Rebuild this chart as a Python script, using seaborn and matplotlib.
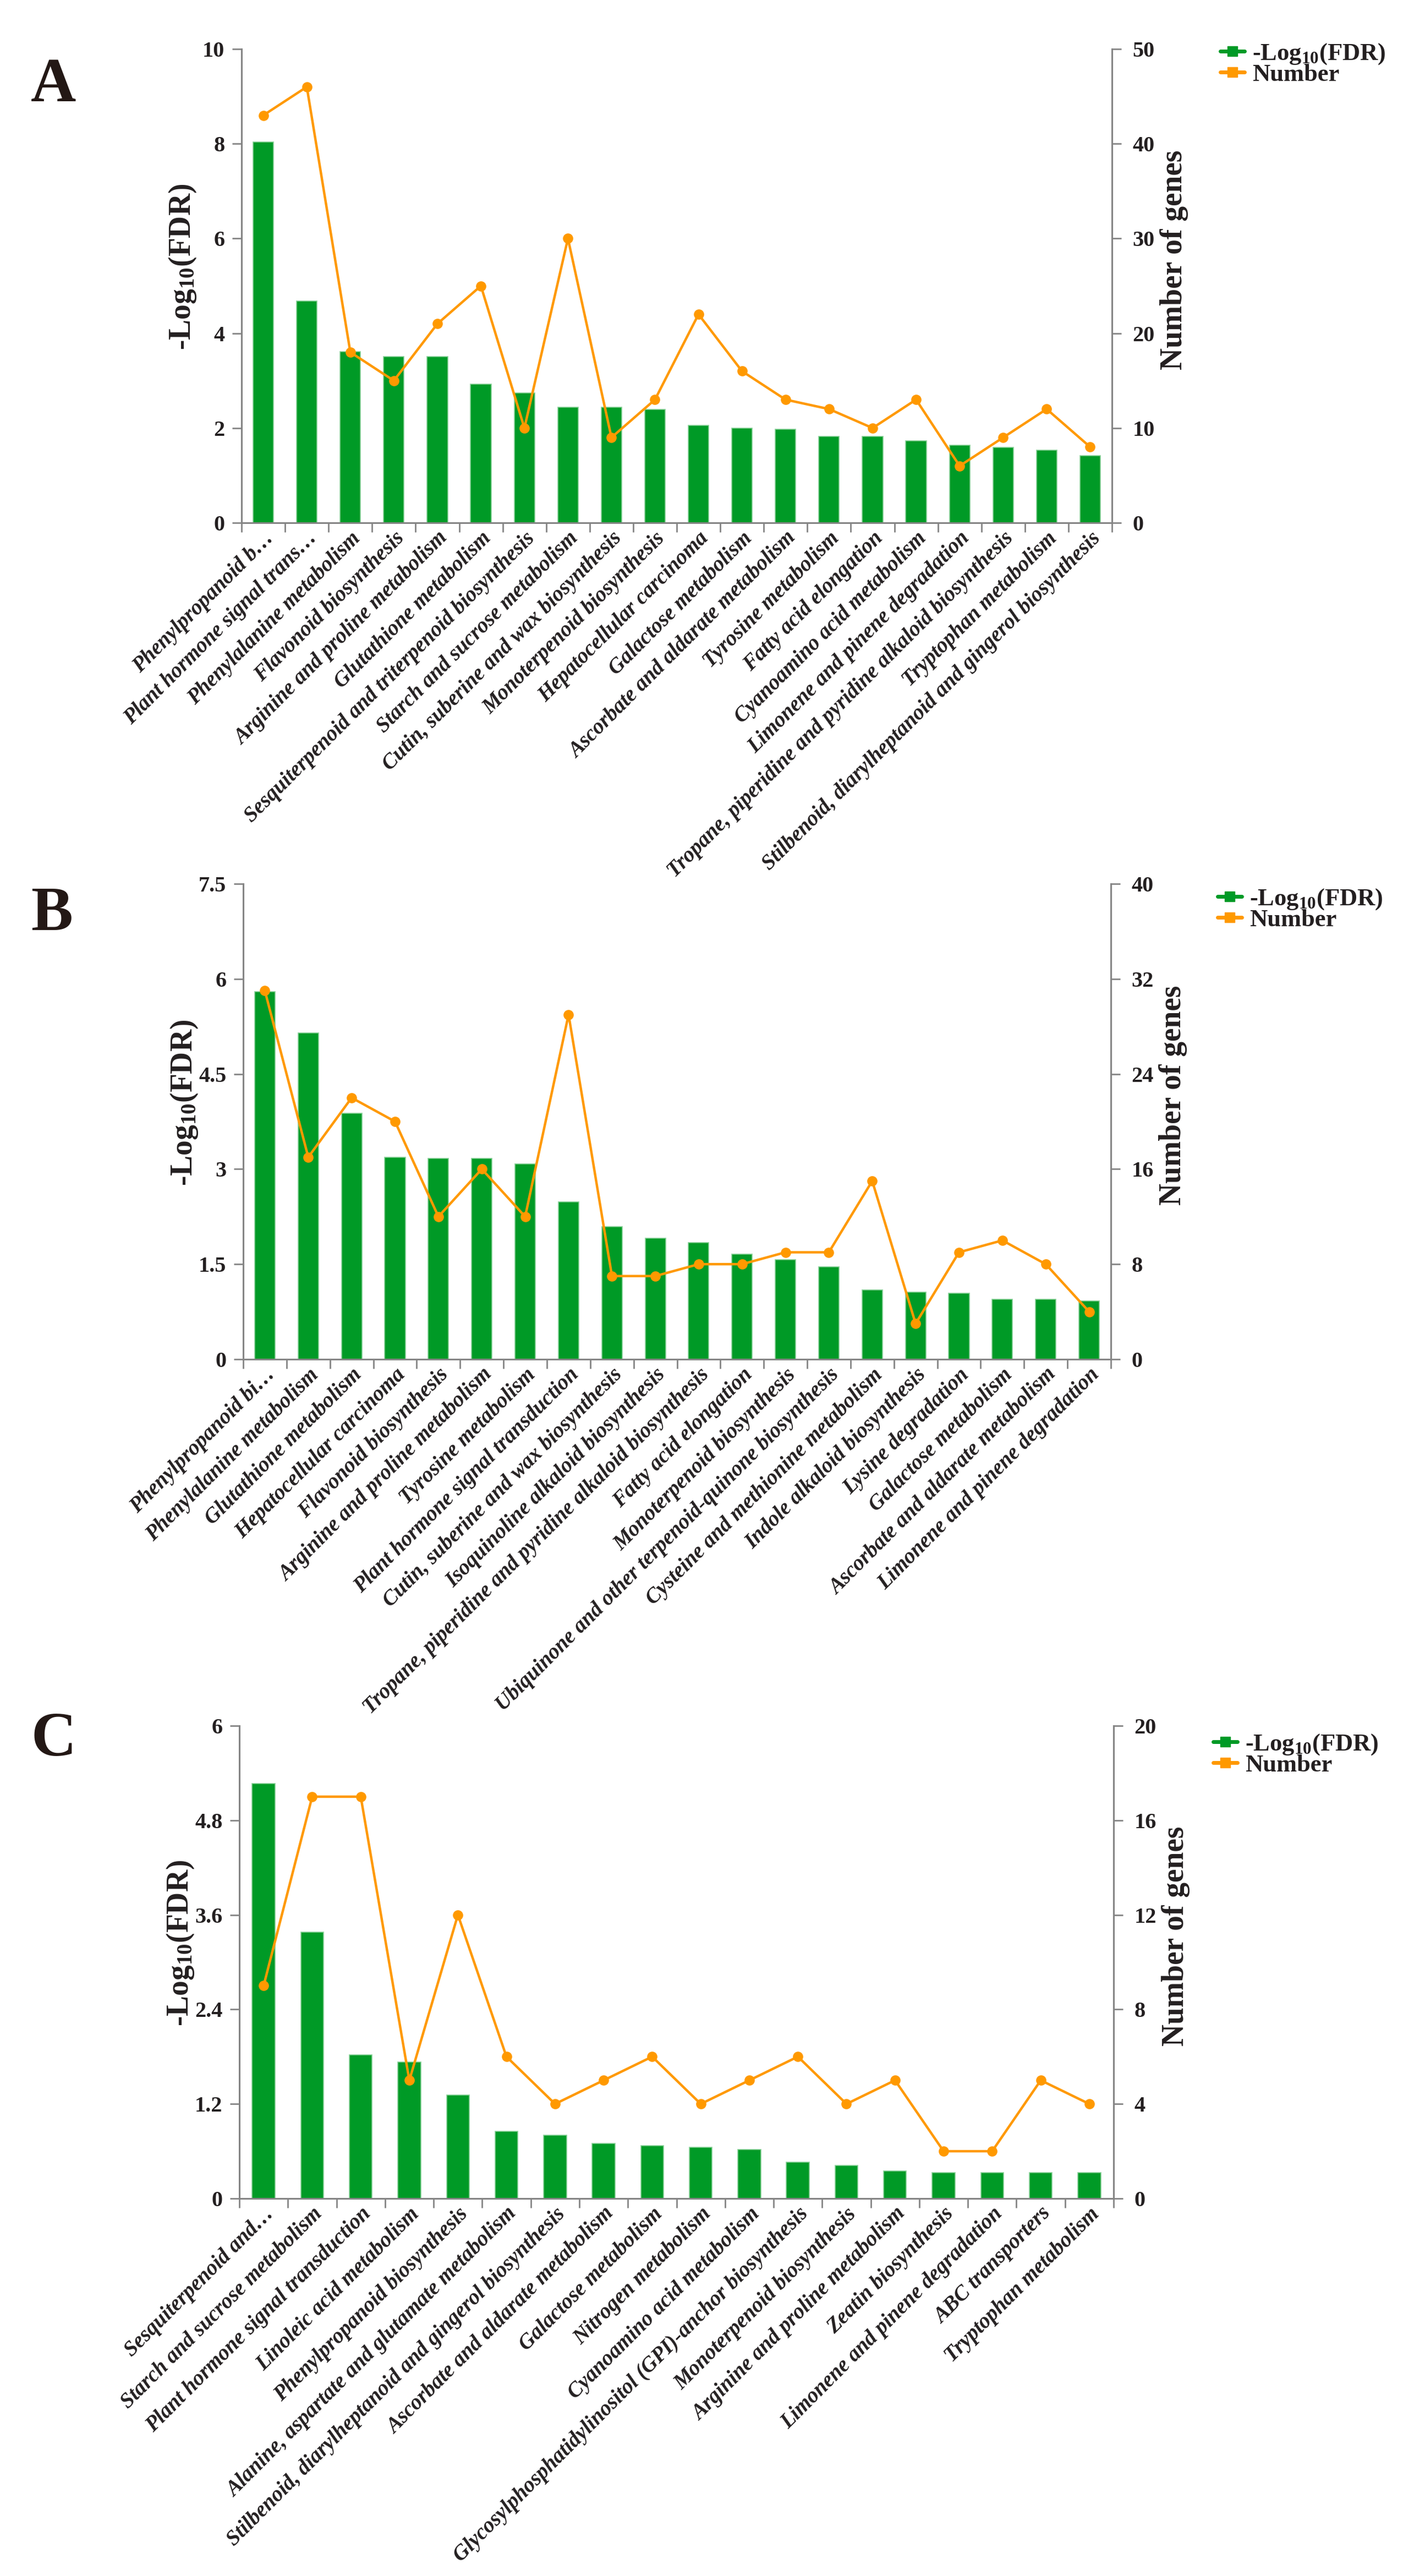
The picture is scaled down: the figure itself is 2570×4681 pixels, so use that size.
import numpy as np
import pandas as pd
import seaborn as sns
import matplotlib.pyplot as plt
from matplotlib.lines import Line2D

# A
a_terms = ["Phenylpropanoid b\u2026", "Plant hormone signal trans\u2026", "Phenylalanine metabolism",
           "Flavonoid biosynthesis", "Arginine and proline metabolism", "Glutathione metabolism",
           "Sesquiterpenoid and triterpenoid biosynthesis", "Starch and sucrose metabolism",
           "Cutin, suberine and wax biosynthesis", "Monoterpenoid biosynthesis",
           "Hepatocellular carcinoma", "Galactose metabolism", "Ascorbate and aldarate metabolism",
           "Tyrosine metabolism", "Fatty acid elongation", "Cyanoamino acid metabolism",
           "Limonene and pinene degradation", "Tropane, piperidine and pyridine alkaloid biosynthesis",
           "Tryptophan metabolism", "Stilbenoid, diarylheptanoid and gingerol biosynthesis"]
a_fdr = [8.04, 4.68, 3.61, 3.51, 3.51, 2.93, 2.74, 2.44, 2.44, 2.39,
         2.06, 2.00, 1.97, 1.82, 1.82, 1.73, 1.64, 1.59, 1.53, 1.42]
a_genes = [43, 46, 18, 15, 21, 25, 10, 30, 9, 13, 22, 16, 13, 12, 10, 13, 6, 9, 12, 8]

# B
b_terms = ["Phenylpropanoid bi\u2026", "Phenylalanine metabolism", "Glutathione metabolism",
           "Hepatocellular carcinoma", "Flavonoid biosynthesis", "Arginine and proline metabolism",
           "Tyrosine metabolism", "Plant hormone signal transduction",
           "Cutin, suberine and wax biosynthesis", "Isoquinoline alkaloid biosynthesis",
           "Tropane, piperidine and pyridine alkaloid biosynthesis", "Fatty acid elongation",
           "Monoterpenoid biosynthesis", "Ubiquinone and other terpenoid-quinone biosynthesis",
           "Cysteine and methionine metabolism", "Indole alkaloid biosynthesis",
           "Lysine degradation", "Galactose metabolism", "Ascorbate and aldarate metabolism",
           "Limonene and pinene degradation"]
b_fdr = [5.80, 5.15, 3.88, 3.19, 3.17, 3.17, 3.08, 2.48, 2.09, 1.91,
         1.84, 1.66, 1.57, 1.46, 1.09, 1.06, 1.04, 0.95, 0.95, 0.92]
b_genes = [31, 17, 22, 20, 12, 16, 12, 29, 7, 7, 8, 8, 9, 9, 15, 3, 9, 10, 8, 4]

# C
c_terms = ["Sesquiterpenoid and\u2026", "Starch and sucrose metabolism",
           "Plant hormone signal transduction", "Linoleic acid metabolism",
           "Phenylpropanoid biosynthesis", "Alanine, aspartate and glutamate metabolism",
           "Stilbenoid, diarylheptanoid and gingerol biosynthesis",
           "Ascorbate and aldarate metabolism", "Galactose metabolism", "Nitrogen metabolism",
           "Cyanoamino acid metabolism",
           "Glycosylphosphatidylinositol (GPI)-anchor biosynthesis",
           "Monoterpenoid biosynthesis", "Arginine and proline metabolism", "Zeatin biosynthesis",
           "Limonene and pinene degradation", "ABC transporters", "Tryptophan metabolism"]
c_fdr = [5.27, 3.38, 1.82, 1.73, 1.31, 0.85, 0.80, 0.70, 0.67, 0.65,
         0.62, 0.46, 0.42, 0.35, 0.33, 0.33, 0.33, 0.33]
c_genes = [9, 17, 17, 5, 12, 6, 4, 5, 6, 4, 5, 6, 4, 5, 2, 2, 5, 4]

green = '#009a26'
orange = '#ff9900'
grey = '#858585'
dark = '#231f20'

W, H = 2570, 4681

sns.set_theme(style='white')
plt.rcParams['font.family'] = ['Liberation Serif', 'DejaVu Serif']
plt.rcParams['font.weight'] = 'bold'
plt.rcParams['mathtext.fontset'] = 'custom'
plt.rcParams['mathtext.rm'] = 'Liberation Serif:bold'
plt.rcParams['mathtext.bf'] = 'Liberation Serif:bold'
plt.rcParams['mathtext.it'] = 'Liberation Serif:bold:italic'

fdr_label = r'-Log$_{10}$(FDR)'

fig = plt.figure(figsize=(W / 100, H / 100), dpi=100)


def draw_panel(letter, terms, fdr, genes, fdr_top, genes_top, box, letter_y, leg_xy):
    # box = left, top, right, bottom in pixels
    l, t, r, b = box
    ax = fig.add_axes([l / W, 1 - b / H, (r - l) / W, (b - t) / H])
    df = pd.DataFrame({'term': terms, 'fdr': fdr, 'genes': genes})
    n = len(terms)

    sns.barplot(data=df, x='term', y='fdr', color=green, saturation=1, width=0.47,
                edgecolor='#86d096', linewidth=1.2, ax=ax)
    ax2 = ax.twinx()
    sns.pointplot(data=df, x='term', y='genes', color=orange, markers='o', errorbar=None,
                  markersize=11, linewidth=3.2, ax=ax2)

    ax.set_xlim(-0.5, n - 0.5)
    ax.set_ylim(0, fdr_top)
    ax2.set_ylim(0, genes_top)
    ax.set_yticks(np.linspace(0, fdr_top, 6))
    ax2.set_yticks(np.linspace(0, genes_top, 6))
    ax.set_yticklabels(['%g' % v for v in np.linspace(0, fdr_top, 6)])
    ax2.set_yticklabels(['%g' % v for v in np.linspace(0, genes_top, 6)])

    ax.set_xticks(range(n))
    ax.set_xticklabels(terms, rotation=45, ha='right', va='top', rotation_mode='anchor',
                       fontsize=28, fontstyle='italic', fontweight='bold', color=dark)
    ax.set_xticks(np.arange(n + 1) - 0.5, minor=True)
    ax.tick_params(axis='x', which='major', length=0, pad=7)
    ax.tick_params(axis='x', which='minor', bottom=True, length=12, width=2, color=grey,
                   direction='out')
    ax.tick_params(axis='y', left=True, length=12, width=2, color=grey, direction='out',
                   pad=10, labelsize=29, labelcolor=dark)
    ax2.tick_params(axis='y', right=True, length=12, width=2, color=grey, direction='out',
                    pad=15, labelsize=29, labelcolor=dark)

    for s in ['top', 'right']:
        ax.spines[s].set_visible(False)
    for s in ['top', 'left', 'bottom']:
        ax2.spines[s].set_visible(False)
    for s in ['left', 'bottom']:
        ax.spines[s].set_color(grey)
        ax.spines[s].set_linewidth(2.2)
    ax2.spines['right'].set_color(grey)
    ax2.spines['right'].set_linewidth(2.2)

    ax.set_xlabel('')
    ax2.set_xlabel('')
    ax.set_ylabel(fdr_label, fontsize=40, fontweight='bold', color=dark)
    ax.yaxis.set_label_coords(-0.05, 0.54)
    ax2.set_ylabel('Number of genes', fontsize=40, fontweight='bold', color=dark)
    ax2.yaxis.set_label_coords(1.055, 0.555)

    fig.text(56 / W, 1 - letter_y / H, letter, fontsize=82, fontweight='bold',
             color='#231815', ha='left', va='baseline')

    handles = [Line2D([0], [0], color=green, marker='s', markersize=13, linewidth=5),
               Line2D([0], [0], color=orange, marker='s', markersize=13, linewidth=5)]
    fig.legend(handles, [fdr_label, 'Number'], loc='upper left',
               bbox_to_anchor=(leg_xy[0] / W, 1 - leg_xy[1] / H), frameon=False,
               fontsize=32, handlelength=1.0, handletextpad=0.3, labelspacing=-0.1,
               borderpad=0, borderaxespad=0, labelcolor=dark)


draw_panel('A', a_terms, a_fdr, a_genes, 10, 50, (439, 89, 2021, 950), 184, (2218, 76))
draw_panel('B', b_terms, b_fdr, b_genes, 7.5, 40, (442, 1606, 2019, 2470), 1690, (2213, 1612))
draw_panel('C', c_terms, c_fdr, c_genes, 6, 20, (435, 3136, 2024, 3995), 3190, (2205, 3148))

fig.savefig('out.png', dpi=100)
plt.close(fig)
